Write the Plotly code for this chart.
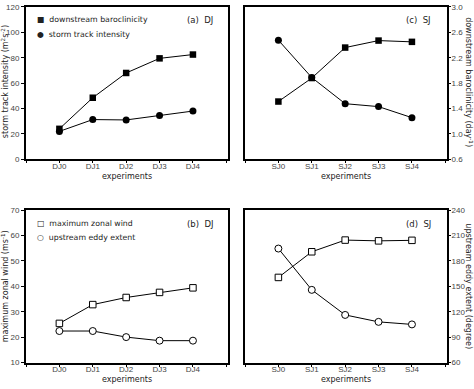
import plotly.graph_objects as go

dj_labels = ["DJ0", "DJ1", "DJ2", "DJ3", "DJ4"]
sj_labels = ["SJ0", "SJ1", "SJ2", "SJ3", "SJ4"]

# panel (a) DJ
dj_baroclinicity = [1.08, 1.57, 1.96, 2.19, 2.25]     # day^-1 (right scale)
dj_storm_track = [22.0, 31.3, 31.0, 34.6, 38.0]       # m^2 s^-2
# panel (c) SJ
sj_baroclinicity = [1.51, 1.88, 2.36, 2.47, 2.45]
sj_storm_track = [93.8, 64.4, 43.8, 41.5, 32.8]
# panel (b) DJ
dj_max_wind = [25.4, 32.8, 35.6, 37.6, 39.4]          # m s^-1
dj_eddy_extent = [97.2, 97.2, 90.0, 85.8, 85.8]       # degree (right scale)
# panel (d) SJ
sj_max_wind = [43.5, 53.6, 58.2, 57.9, 58.1]
sj_eddy_extent = [194.6, 145.8, 116.2, 108.0, 105.0]

W, H = 474, 389
xa = [26 / W, 228 / W]
xc = [245 / W, 447 / W]
ytop = [1 - 159 / H, 1 - 3 / H]
ybot = [1 - 367 / H, 1 - 211 / H]

FONT = "DejaVu Sans"
TICKF = dict(family="Liberation Sans", size=8, color="#444")

fig = go.Figure()

xs = [0, 1, 2, 3, 4]
line = dict(color="black", width=1)
fill_sq = dict(symbol="square", size=6.5, color="black")
fill_ci = dict(symbol="circle", size=7, color="black")
open_sq = dict(symbol="square", size=6.5, color="white", line=dict(color="black", width=1))
open_ci = dict(symbol="circle", size=7, color="white", line=dict(color="black", width=1))

def add(y, marker, xaxis, yaxis):
    fig.add_trace(go.Scatter(x=xs, y=y, mode="lines+markers", line=line, marker=marker,
                             xaxis=xaxis, yaxis=yaxis, showlegend=False, cliponaxis=False))

add(dj_baroclinicity, fill_sq, "x", "y5")
add(dj_storm_track, fill_ci, "x", "y")
add(sj_storm_track, fill_ci, "x2", "y2")
add(sj_baroclinicity, fill_sq, "x2", "y6")
add(dj_max_wind, open_sq, "x3", "y3")
add(dj_eddy_extent, open_ci, "x3", "y7")
add(sj_eddy_extent, open_ci, "x4", "y8")
add(sj_max_wind, open_sq, "x4", "y4")

def xaxis(domain, anchor, labels):
    return dict(domain=domain, anchor=anchor, range=[-1, 5.05],
                tickvals=xs, ticktext=labels,
                ticks="outside", ticklen=2, tickwidth=1, tickcolor="black",
                minor=dict(tickvals=[-1, 5], ticks="outside", ticklen=2, tickwidth=1,
                           tickcolor="black", showgrid=False),
                ticklabelstandoff=-4,
                showline=True, mirror=True, linecolor="black", linewidth=2,
                showgrid=False, zeroline=False, tickfont=TICKF, fixedrange=True)

def yaxis(domain, anchor, rng, dtick, show=True):
    d = dict(domain=domain, anchor=anchor, range=rng, dtick=dtick, tick0=rng[0],
             showline=True, mirror=True, linecolor="black", linewidth=2,
             showgrid=False, zeroline=False, tickfont=TICKF, fixedrange=True)
    if show:
        d.update(ticks="outside", ticklen=3, tickwidth=1, tickcolor="black")
    else:
        d.update(ticks="", showticklabels=False)
    return d

def yover(over, anchor, rng, dtick, show):
    d = dict(overlaying=over, anchor=anchor, side="right", range=rng, dtick=dtick, tick0=rng[0],
             showline=False, showgrid=False, zeroline=False, tickfont=TICKF, fixedrange=True,
             tickformat=".1f" if dtick < 1 else "d", ticklabelstandoff=-1)
    if show:
        d.update(ticks="outside", ticklen=3, tickwidth=1, tickcolor="black")
    else:
        d.update(ticks="", showticklabels=False)
    return d

fig.update_layout(
    width=W, height=H, margin=dict(l=0, r=0, t=0, b=0),
    paper_bgcolor="white", plot_bgcolor="white", showlegend=False,
    xaxis=xaxis(xa, "y", dj_labels),
    xaxis2=xaxis(xc, "y2", sj_labels),
    xaxis3=xaxis(xa, "y3", dj_labels),
    xaxis4=xaxis(xc, "y4", sj_labels),
    yaxis=yaxis(ytop, "x", [0, 120], 20),
    yaxis2=yaxis(ytop, "x2", [0, 120], 20, show=False),
    yaxis3=yaxis(ybot, "x3", [10, 70], 10),
    yaxis4=yaxis(ybot, "x4", [10, 70], 10, show=False),
    yaxis5=yover("y", "x", [0.6, 3.0], 0.4, False),
    yaxis6=yover("y2", "x2", [0.6, 3.0], 0.4, True),
    yaxis7=yover("y3", "x3", [60, 240], 30, False),
    yaxis8=yover("y4", "x4", [60, 240], 30, True),
)

def ann(text, x, y, angle=0, size=8, anchor="center"):
    fig.add_annotation(text=text, x=x / W, y=1 - y / H, xref="paper", yref="paper",
                       showarrow=False, textangle=angle, xanchor=anchor, yanchor="middle",
                       font=dict(family=FONT, size=size, color="#222"))

# legends
ann("■  downstream baroclinicity", 35, 16, anchor="left", size=7.8)
ann("●  storm track intensity", 35, 31, anchor="left", size=7.8)
ann("□  maximum zonal wind", 35, 225, anchor="left", size=7.8)
ann("○  upstream eddy extent", 35, 239, anchor="left", size=7.8)

ann("(a)  DJ", 200, 16, size=8.5)
ann("(c)  SJ", 418, 16, size=8.5)
ann("(b)  DJ", 200, 225, size=8.5)
ann("(d)  SJ", 418, 225, size=8.5)
ann("experiments", 127, 177)
ann("experiments", 346, 177)
ann("experiments", 127, 384)
ann("experiments", 346, 384)
ann("storm track intensity (m<sup>2</sup>s<sup>-2</sup>)", 5, 80, angle=-90)
ann("maximum zonal wind (ms<sup>-1</sup>)", 5, 289, angle=-90)
ann("downstream baroclinicity (day<sup>-1</sup>)", 469, 80, angle=90)
ann("upstream eddy extent (degree)", 469, 289, angle=90)

fig.write_html("out.html", config={"displayModeBar": False},
               post_script="document.body.style.margin='0';document.body.style.overflow='hidden';")
